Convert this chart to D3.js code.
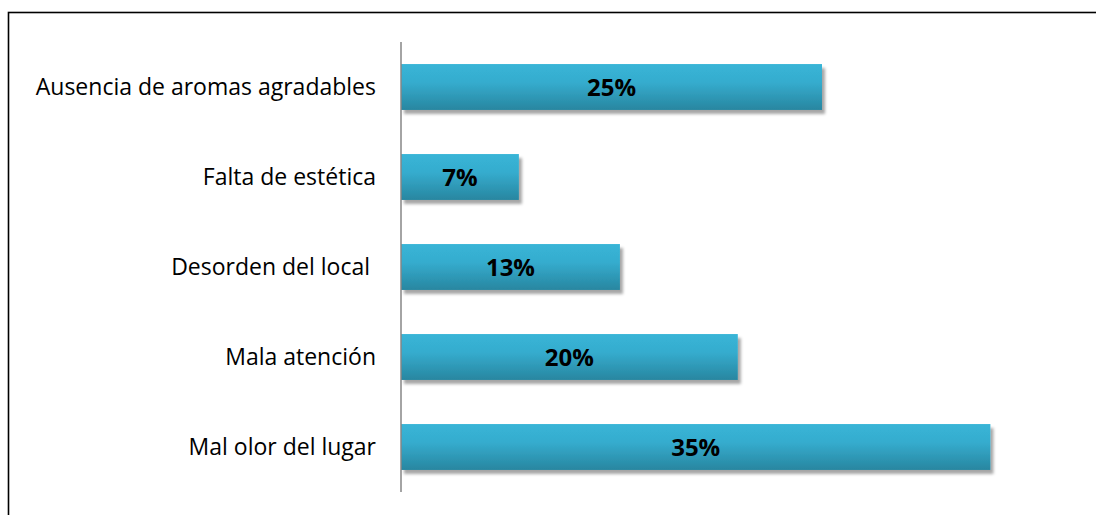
<!DOCTYPE html>
<html>
<head>
<meta charset="utf-8">
<script src="https://cdn.jsdelivr.net/npm/d3@7"></script>
<style>
  body { margin: 0; background: #fff; }
  svg { display: block; }
</style>
</head>
<body>
<div id="chart"></div>
<script>
// data, top to bottom as in the chart
const categories = ["Ausencia de aromas agradables", "Falta de estética", "Desorden del local\u00a0", "Mala atención", "Mal olor del lugar"];
const values = [25, 7, 13, 20, 35];
const valueLabels = ["25%", "7%", "13%", "20%", "35%"];

const W = 1096, H = 515;
const svg = d3.select('#chart')
  .append('svg')
  .attr('width', W)
  .attr('height', H);

const defs = svg.append('defs');

// bar gradient (light top, darker bottom)
const grad = defs.append('linearGradient')
  .attr('id', 'barGrad')
  .attr('x1', 0).attr('y1', 0).attr('x2', 0).attr('y2', 1);
grad.append('stop').attr('offset', '0%').attr('stop-color', '#38b5d7');
grad.append('stop').attr('offset', '40%').attr('stop-color', '#35acce');
grad.append('stop').attr('offset', '100%').attr('stop-color', '#2886a0');

// soft drop shadow under the bars
const shadow = defs.append('filter')
  .attr('id', 'shadow')
  .attr('x', '-5%').attr('y', '-20%')
  .attr('width', '115%').attr('height', '160%');
shadow.append('feDropShadow')
  .attr('dx', 3).attr('dy', 4)
  .attr('stdDeviation', 1.5)
  .attr('flood-color', '#000')
  .attr('flood-opacity', 0.35);

// outer frame (runs off the right and bottom edges)
svg.append('rect')
  .attr('x', 8.5).attr('y', 12.5)
  .attr('width', 1200).attr('height', 600)
  .attr('fill', 'none')
  .attr('stroke', '#000')
  .attr('stroke-width', 1.6);

const x = d3.scaleLinear()
  .domain([0, 40])
  .range([401, 401 + 673.6]);

const y = d3.scaleBand()
  .domain(categories)
  .range([42, 492])
  .paddingInner(0.49)
  .paddingOuter(0.245);

// bars
svg.selectAll('.bar')
  .data(values)
  .join('rect')
  .attr('class', 'bar')
  .attr('x', x(0))
  .attr('y', (d, i) => y(categories[i]))
  .attr('width', d => x(d) - x(0))
  .attr('height', y.bandwidth())
  .attr('fill', 'url(#barGrad)')
  .attr('filter', 'url(#shadow)');

// value labels inside bars
svg.selectAll('.val')
  .data(values)
  .join('text')
  .attr('class', 'val')
  .attr('x', d => x(0) + (x(d) - x(0)) / 2)
  .attr('y', (d, i) => y(categories[i]) + y.bandwidth() / 2)
  .attr('dy', '0.36em')
  .attr('text-anchor', 'middle')
  .style('font-family', '"Open Sans", sans-serif')
  .style('font-weight', 'bold')
  .style('font-size', '24px')
  .style('fill', '#000')
  .text((d, i) => valueLabels[i]);

// category axis
const yAxis = svg.append('g')
  .attr('transform', `translate(${x(0)},0)`)
  .call(d3.axisLeft(y).tickSize(0).tickPadding(25));
yAxis.select('.domain')
  .attr('d', `M0,42V492`)
  .attr('stroke', '#868686')
  .attr('stroke-width', 1.5);
yAxis.selectAll('text')
  .style('font-family', '"Open Sans", sans-serif')
  .style('font-size', '23px')
  .style('fill', '#000')
  .attr('dy', '0.36em');
</script>
</body>
</html>
